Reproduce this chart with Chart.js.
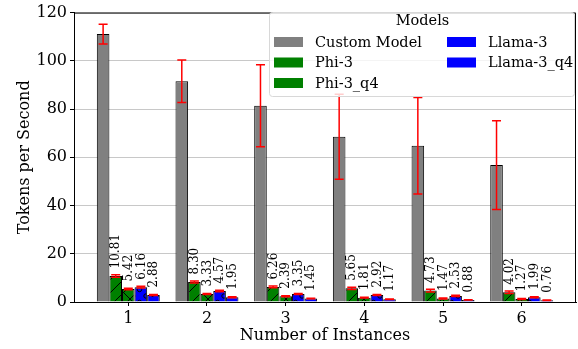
<!DOCTYPE html>
<html>
<head>
<meta charset="utf-8">
<script src="https://cdn.jsdelivr.net/npm/chart.js@4"></script>
<style>
  html, body { margin: 0; padding: 0; background: #fff; }
  #wrap { width: 578px; height: 349px; }
</style>
</head>
<body>
<div id="wrap"><canvas id="c"></canvas></div>
<script>
const INSTANCES = [1, 2, 3, 4, 5, 6];
const Y_TICKS = [0, 20, 40, 60, 80, 100, 120];
const MODEL_LABELS = ["Custom Model", "Phi-3", "Phi-3_q4", "Llama-3", "Llama-3_q4"];
const MODEL_COLORS = ["#808080", "#008000", "#008000", "#0000ff", "#0000ff"];
const MODEL_HATCH = ["", "/", "x", "o", "."];

const customVals = [111.1, 91.5, 81.4, 68.5, 64.8, 56.8];
const customErr = [4.1, 8.8, 17.0, 17.6, 20.0, 18.4];
const phi3Vals = [10.81, 8.30, 6.26, 5.65, 4.73, 4.02];
const phi3Err = [0.5, 0.4, 0.4, 0.5, 0.6, 0.5];
const phi3q4Vals = [5.42, 3.33, 2.39, 1.81, 1.47, 1.27];
const phi3q4Err = [0.3, 0.2, 0.2, 0.2, 0.2, 0.2];
const llamaVals = [6.16, 4.57, 3.35, 2.92, 2.53, 1.99];
const llamaErr = [0.4, 0.3, 0.2, 0.2, 0.3, 0.2];
const llamaq4Vals = [2.88, 1.95, 1.45, 1.17, 0.88, 0.76];
const llamaq4Err = [0.2, 0.2, 0.1, 0.1, 0.1, 0.1];

const SERIES_VALS = [customVals, phi3Vals, phi3q4Vals, llamaVals, llamaq4Vals];
const SERIES_ERR = [customErr, phi3Err, phi3q4Err, llamaErr, llamaq4Err];
// only the small models get their value written above the bar
const SHOW_LABELS = [false, true, true, true, true];

const FONT = "'DejaVu Serif', serif";

function hatchPattern(color, kind) {
  if (!kind) return color;
  const s = 13;
  const cv = document.createElement("canvas");
  cv.width = s; cv.height = s;
  const g = cv.getContext("2d");
  g.fillStyle = color;
  g.fillRect(0, 0, s, s);
  g.strokeStyle = "#000";
  g.fillStyle = "#000";
  g.lineWidth = 1;
  if (kind === "/" || kind === "x") {
    g.beginPath();
    g.moveTo(-1, s + 1); g.lineTo(s + 1, -1);
    g.moveTo(-1, 1); g.lineTo(1, -1);
    g.moveTo(s - 1, s + 1); g.lineTo(s + 1, s - 1);
    if (kind === "x") {
      g.moveTo(-1, -1); g.lineTo(s + 1, s + 1);
      g.moveTo(s - 1, -1); g.lineTo(s + 1, 1);
      g.moveTo(-1, s - 1); g.lineTo(1, s + 1);
    }
    g.stroke();
  } else if (kind === "o") {
    [[3, 10], [9.5, 3.5]].forEach(([x, y]) => {
      g.beginPath();
      g.arc(x, y, 2.2, 0, Math.PI * 2);
      g.stroke();
    });
  } else if (kind === ".") {
    [[3, 10], [9.5, 3.5], [3, 3.5], [9.5, 10]].forEach(([x, y]) => {
      g.beginPath();
      g.arc(x, y, 1.1, 0, Math.PI * 2);
      g.fill();
    });
  }
  return g.createPattern(cv, "repeat");
}

const errorBarsPlugin = {
  id: "errorBars",
  afterDatasetsDraw(chart) {
    const { ctx } = chart;
    const y = chart.scales.y;
    ctx.save();
    ctx.strokeStyle = "#ff0000";
    ctx.lineWidth = 1.5;
    chart.data.datasets.forEach((ds, di) => {
      const meta = chart.getDatasetMeta(di);
      meta.data.forEach((bar, i) => {
        const v = SERIES_VALS[di][i];
        const e = SERIES_ERR[di][i];
        const top = y.getPixelForValue(v + e);
        const bot = y.getPixelForValue(v - e);
        ctx.beginPath();
        ctx.moveTo(bar.x, top); ctx.lineTo(bar.x, bot);
        ctx.moveTo(bar.x - 4.5, top); ctx.lineTo(bar.x + 4.5, top);
        ctx.moveTo(bar.x - 4.5, bot); ctx.lineTo(bar.x + 4.5, bot);
        ctx.stroke();
      });
    });
    // value labels
    ctx.fillStyle = "#000";
    ctx.font = "12px " + FONT;
    ctx.textAlign = "left";
    ctx.textBaseline = "middle";
    chart.data.datasets.forEach((ds, di) => {
      if (!SHOW_LABELS[di]) return;
      const meta = chart.getDatasetMeta(di);
      meta.data.forEach((bar, i) => {
        const v = SERIES_VALS[di][i];
        ctx.save();
        ctx.translate(bar.x + 0.5, y.getPixelForValue(v) - 7.5);
        ctx.rotate(-Math.PI / 2);
        ctx.fillText(v.toFixed(2), 0, 0);
        ctx.restore();
      });
    });
    ctx.restore();
  }
};

const frameAndLegendPlugin = {
  id: "frameLegend",
  afterDraw(chart) {
    const { ctx, chartArea: a } = chart;
    ctx.save();
    // top and right spines
    ctx.strokeStyle = "#000";
    ctx.lineWidth = 1;
    ctx.beginPath();
    ctx.moveTo(a.left, a.top + 0.5); ctx.lineTo(a.right - 0.5, a.top + 0.5);
    ctx.lineTo(a.right - 0.5, a.bottom);
    ctx.stroke();

    // legend box
    const bx = 269.5, by = 12.5, bw = 305, bh = 84;
    ctx.fillStyle = "rgba(255,255,255,0.8)";
    ctx.strokeStyle = "#d8d8d8";
    ctx.beginPath();
    ctx.roundRect(bx, by, bw, bh, 3);
    ctx.fill();
    ctx.stroke();

    ctx.fillStyle = "#000";
    ctx.font = "14.5px " + FONT;
    ctx.textBaseline = "middle";
    ctx.textAlign = "center";
    ctx.fillText("Models", 422.5, 21);
    ctx.textAlign = "left";
    const cols = [[274, 315], [447, 488]];
    const rows = [42, 62.5, 83];
    MODEL_LABELS.forEach((lab, i) => {
      const col = i < 3 ? 0 : 1;
      const row = i < 3 ? i : i - 3;
      ctx.fillStyle = MODEL_COLORS[i];
      ctx.fillRect(cols[col][0], rows[row] - 5, 29, 10);
      ctx.fillStyle = "#000";
      ctx.fillText(lab, cols[col][1], rows[row] + 1);
    });
    ctx.restore();
  }
};

const datasets = MODEL_LABELS.map((lab, di) => ({
  label: lab,
  data: INSTANCES.map((x, i) => ({ x: x, y: SERIES_VALS[di][i] })),
  backgroundColor: hatchPattern(MODEL_COLORS[di], MODEL_HATCH[di]),
  borderColor: "#000",
  borderWidth: 1,
  borderSkipped: "bottom",
  categoryPercentage: 0.8,
  barPercentage: 1.0
}));

new Chart(document.getElementById("c"), {
  type: "bar",
  data: { datasets },
  options: {
    responsive: true,
    maintainAspectRatio: false,
    animation: false,
    layout: { padding: { top: 10, right: 2, left: 0, bottom: 0 } },
    plugins: {
      legend: { display: false },
      tooltip: { enabled: false }
    },
    scales: {
      x: {
        type: "linear",
        min: 0.31,
        max: 6.69,
        offset: false,
        afterBuildTicks: (axis) => { axis.ticks = INSTANCES.map(v => ({ value: v })); },
        afterFit: (axis) => { axis.height = 47; },
        grid: {
          offset: false,
          drawOnChartArea: false,
          drawTicks: true,
          tickLength: 4,
          tickColor: "#000",
          tickWidth: 1
        },
        border: { color: "#000", width: 1 },
        ticks: {
          color: "#000",
          font: { family: FONT, size: 16 },
          padding: 3,
          maxRotation: 0
        },
        title: {
          display: true,
          text: "Number of Instances",
          color: "#000",
          font: { family: FONT, size: 16 },
          padding: { top: 3, bottom: 4 }
        }
      },
      y: {
        min: 0,
        max: 120,
        afterBuildTicks: (axis) => { axis.ticks = Y_TICKS.map(v => ({ value: v })); },
        afterFit: (axis) => { axis.width = 74; },
        grid: {
          color: "#c8c8c8",
          borderDash: [1.5, 2.5],
          tickColor: "#000",
          tickBorderDash: [],
          tickLength: 4,
          lineWidth: 1
        },
        border: { color: "#000", width: 1 },
        ticks: {
          color: "#000",
          font: { family: FONT, size: 16 },
          padding: 3
        },
        title: {
          display: true,
          text: "Tokens per Second",
          color: "#000",
          font: { family: FONT, size: 16 },
          padding: { top: 15, bottom: 4 }
        }
      }
    }
  },
  plugins: [errorBarsPlugin, frameAndLegendPlugin]
});
</script>
</body>
</html>
